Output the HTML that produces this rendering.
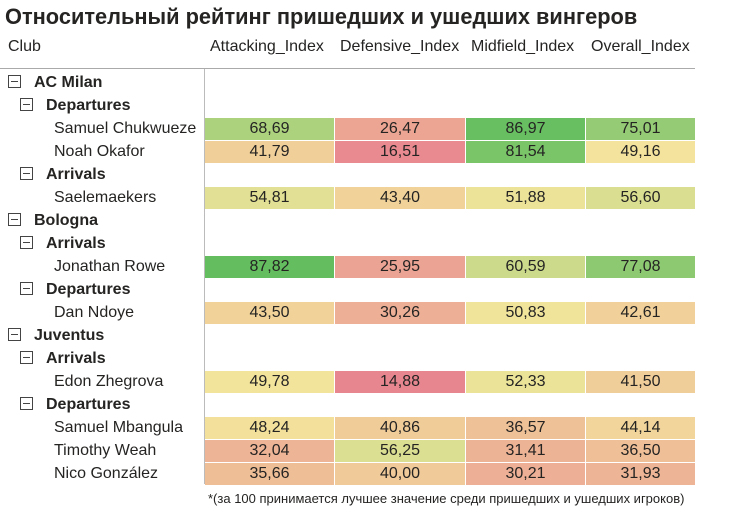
<!DOCTYPE html>
<html><head><meta charset="utf-8">
<style>
body{margin:0;width:730px;height:516px;background:#fff;font-family:"Liberation Sans","DejaVu Sans",sans-serif;color:#252423;position:relative;overflow:hidden}
#title{position:absolute;left:5px;top:4px;font-size:21.8px;font-weight:bold;white-space:nowrap}
.h{position:absolute;top:38px;font-size:16px;white-space:nowrap}
.lbl{position:absolute;font-size:16px;white-space:nowrap;line-height:23px}
.cell{position:absolute;height:22px;line-height:22px;text-align:center;font-size:16px}
.box{display:inline-block;width:11px;height:11px;border:1px solid #444;position:relative;vertical-align:middle;margin-right:13px;top:-1px}
.box:after{content:"";position:absolute;left:2px;right:2px;top:5px;height:1px;background:#444}
#foot{position:absolute;left:208px;top:491px;font-size:13px;white-space:nowrap}
</style></head><body>
<div id="title">Относительный рейтинг пришедших и ушедших вингеров</div>
<div class="h" style="left:8px">Club</div>
<div id="hdrs"></div>
<div style="position:absolute;left:0;top:68px;width:695px;height:1px;background:#aaa"></div>
<div style="position:absolute;left:204px;top:69px;width:1px;height:415px;background:#bbb"></div>
<div id="rows"></div>
<div id="foot">*(за 100 принимается лучшее значение среди пришедших и ушедших игроков)</div>
<script>
const columns=["Attacking_Index","Defensive_Index","Midfield_Index","Overall_Index"];
const rowLabels=["AC Milan","Departures","Samuel Chukwueze","Noah Okafor","Arrivals","Saelemaekers","Bologna","Arrivals","Jonathan Rowe","Departures","Dan Ndoye","Juventus","Arrivals","Edon Zhegrova","Departures","Samuel Mbangula","Timothy Weah","Nico González"];
const rowLevels=[0,1,2,2,1,2,0,1,2,1,2,0,1,2,1,2,2,2];
const attacking=[null,null,68.69,41.79,null,54.81,null,null,87.82,null,43.50,null,null,49.78,null,48.24,32.04,35.66];
const defensive=[null,null,26.47,16.51,null,43.40,null,null,25.95,null,30.26,null,null,14.88,null,40.86,56.25,40.00];
const midfield=[null,null,86.97,81.54,null,51.88,null,null,60.59,null,50.83,null,null,52.33,null,36.57,31.41,30.21];
const overall=[null,null,75.01,49.16,null,56.60,null,null,77.08,null,42.61,null,null,41.50,null,44.14,36.50,31.93];
const series=[attacking,defensive,midfield,overall];
const colX=[204,334,465,585,695];
const hdr=document.getElementById('hdrs');
columns.forEach((c,i)=>{const d=document.createElement('div');d.className='h';


d.style.left=(colX[i]+6)+'px';d.textContent=c;hdr.appendChild(d);});
function lerp(a,b,t){return a.map((v,i)=>Math.round(v+(b[i]-v)*t));}
function color(v){const r=[232,134,143],y=[243,229,156],g=[99,190,95];
if(v<=50){const t=Math.max(0,(v-15)/35);return 'rgb('+lerp(r,y,t)+')';}
const t=Math.min(1,(v-50)/38);return 'rgb('+lerp(y,g,t)+')';}
const rows=document.getElementById('rows');
const top0=71,rh=23;
rowLabels.forEach((lab,r)=>{
 const y=top0+r*rh,lv=rowLevels[r];
 const d=document.createElement('div');d.className='lbl';
 
 
 d.style.top=y+'px';
 if(lv<2){d.style.left=(8+lv*12)+'px';d.style.fontWeight='bold';d.innerHTML='<span class="box"></span>'+lab;}
 else{d.style.left='54px';d.textContent=lab;}
 rows.appendChild(d);
 series.forEach((s,c)=>{const v=s[r];if(v==null)return;
  const e=document.createElement('div');e.className='cell';
  
  
  e.style.left=(colX[c]+1)+'px';e.style.width=(colX[c+1]-colX[c]-1)+'px';e.style.top=(y+1)+'px';
  e.style.background=color(v);e.textContent=v.toFixed(2).replace('.',',');rows.appendChild(e);});
});
</script>
</body></html>
